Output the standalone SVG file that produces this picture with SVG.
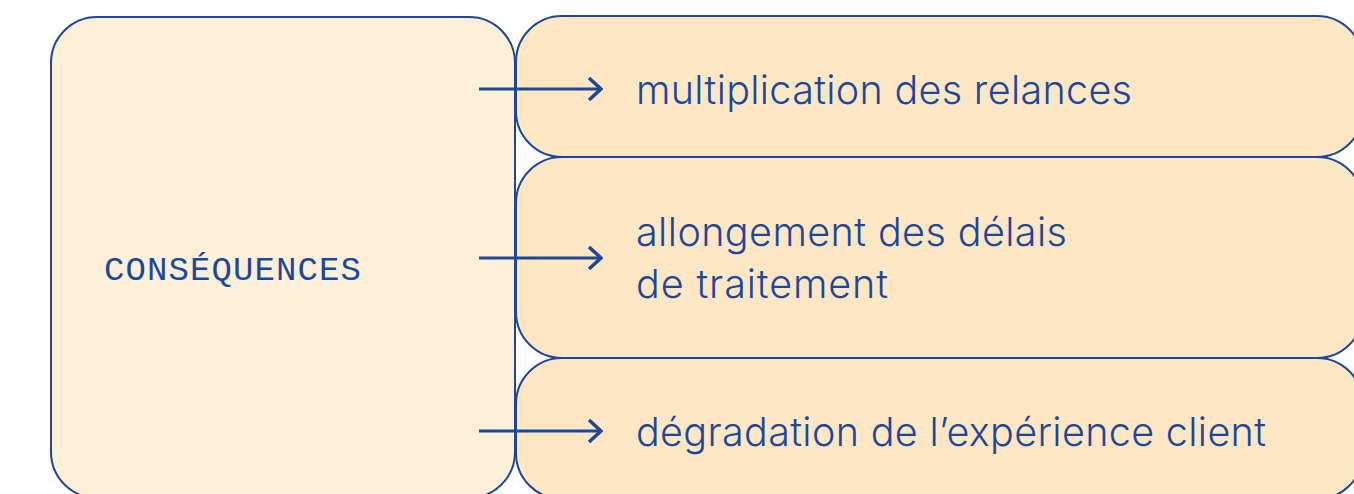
<svg xmlns="http://www.w3.org/2000/svg" width="1354" height="494" viewBox="0 0 1354 494">
<style>
.main{fill:#FDF0D9;stroke:#1E4799;stroke-width:2}
.item{fill:#FEE7C4;stroke:#1E4799;stroke-width:2}
.lbl{font-family:Inter,"Liberation Sans",sans-serif;font-size:39.5px;fill:#1E4799;font-weight:300}
.title{font-family:"Liberation Mono","DejaVu Sans Mono",monospace;font-size:34px;fill:#1E4799}
.arr{stroke:#1E4799;stroke-width:3;fill:none}
</style>
<defs>
<marker id="ah" viewBox="0 0 16 24" refX="14" refY="12" markerWidth="16" markerHeight="24" markerUnits="userSpaceOnUse" orient="auto">
<path d="M2,1 L14,12 L2,23" fill="none" stroke="#1E4799" stroke-width="3.5"/>
</marker>
</defs>
<rect width="1354" height="494" fill="#FFFFFF"/>
<g id="node-consequences">
<rect class="main" x="51" y="17" width="464" height="481" rx="46" ry="46"/>
<text class="title" x="104" y="280" textLength="257" lengthAdjust="spacing">CONSÉQUENCES</text>
</g>
<g id="node-relances">
<rect class="item" x="516" y="16" width="847" height="141" rx="46" ry="46"/>
<text class="lbl" x="636" y="104" textLength="496" lengthAdjust="spacing">multiplication des relances</text>
</g>
<g id="node-delais">
<rect class="item" x="516" y="157" width="847" height="201" rx="46" ry="46"/>
<text class="lbl" x="636" y="246" textLength="431" lengthAdjust="spacing">allongement des délais</text>
<text class="lbl" x="636" y="298" textLength="252" lengthAdjust="spacing">de traitement</text>
</g>
<g id="node-experience">
<rect class="item" x="516" y="358" width="847" height="141" rx="46" ry="46"/>
<text class="lbl" x="636" y="446" textLength="630" lengthAdjust="spacing">dégradation de l’expérience client</text>
</g>
<g id="connectors">
<line class="arr" x1="479" y1="89" x2="601" y2="89" marker-end="url(#ah)"/>
<line class="arr" x1="479" y1="258" x2="601" y2="258" marker-end="url(#ah)"/>
<line class="arr" x1="479" y1="431" x2="601" y2="431" marker-end="url(#ah)"/>
</g>
</svg>
